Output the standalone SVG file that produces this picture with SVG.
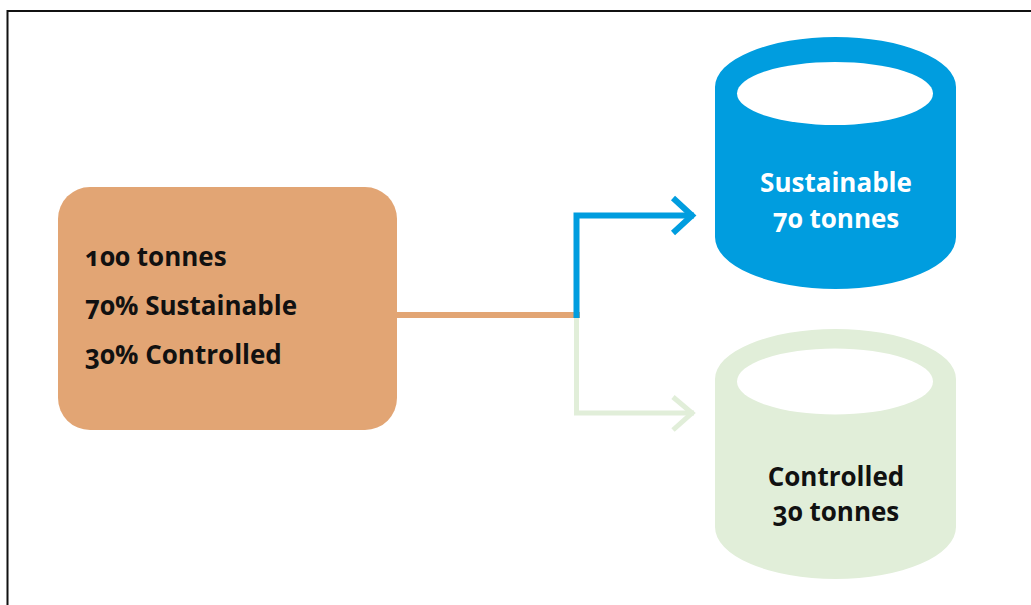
<svg xmlns="http://www.w3.org/2000/svg" width="1031" height="605" viewBox="0 0 1031 605">
<defs>
<style>
.t{font-family:"Open Sans","Liberation Sans",sans-serif;font-weight:700;font-size:26px;font-variant-numeric:oldstyle-nums;font-feature-settings:"onum" 1}
.dark{fill:#111}
.white{fill:#fff}
.c{text-anchor:middle}
.conn{fill:none;stroke-linejoin:miter;stroke-linecap:butt}
</style>
</defs>
<rect width="1031" height="605" fill="#fff"/>
<path d="M7.5,605 V11 H1031" fill="none" stroke="#111" stroke-width="2"/>
<g id="connectors">
<path class="conn" d="M397,315 H580" stroke="#e2a574" stroke-width="6"/>
<path class="conn" d="M576.5,318 V413 H694" stroke="#e1eed9" stroke-width="5"/>
<path class="conn" d="M673,397 L692,413 L673,430" stroke="#e1eed9" stroke-width="5"/>
<path class="conn" d="M576.5,318 V215.5 H694" stroke="#009ddf" stroke-width="6"/>
<path class="conn" d="M673,198 L692,215.5 L673,233" stroke="#009ddf" stroke-width="6"/>
</g>
<g id="source">
<rect x="58" y="187" width="339" height="243" rx="32" ry="32" fill="#e2a574"/>
<text class="t dark" x="85" y="266">100 tonnes</text>
<text class="t dark" x="85" y="315">70% Sustainable</text>
<text class="t dark" x="85" y="364">30% Controlled</text>
</g>
<g id="sustainable">
<path d="M715,87 A120.5,50 0 0 1 956,87 V237 A120.5,52 0 0 1 715,237 Z" fill="#009ddf"/>
<ellipse cx="835" cy="93.5" rx="98" ry="31.5" fill="#fff"/>
<text class="t white c" x="836" y="192">Sustainable</text>
<text class="t white c" x="836" y="228">70 tonnes</text>
</g>
<g id="controlled">
<path d="M715,379 A120.5,50 0 0 1 956,379 V527 A120.5,52 0 0 1 715,527 Z" fill="#e1eed9"/>
<ellipse cx="835" cy="381.5" rx="98" ry="33" fill="#fff"/>
<text class="t dark c" x="836" y="486">Controlled</text>
<text class="t dark c" x="836" y="521">30 tonnes</text>
</g>
</svg>
